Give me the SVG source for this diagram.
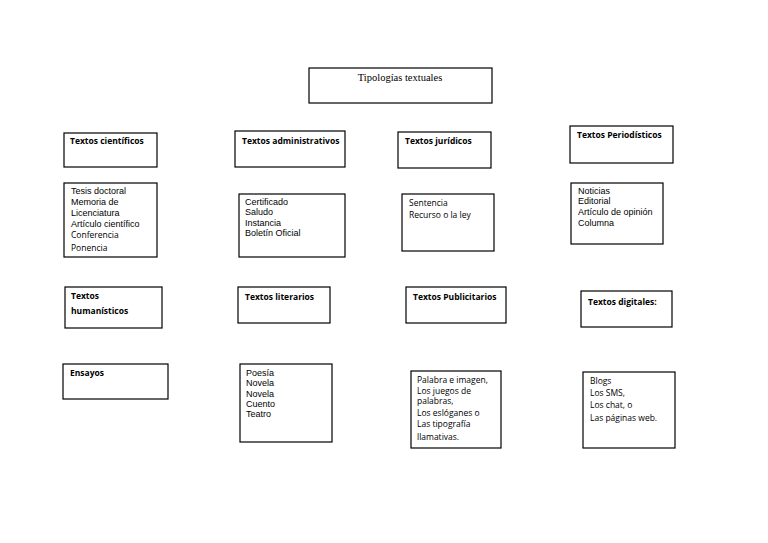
<svg xmlns="http://www.w3.org/2000/svg" width="768" height="543" viewBox="0 0 768 543">
<style>
rect{fill:#fff;stroke:#000;stroke-width:1.2}
text{font-family:"Liberation Sans",Arial,sans-serif;font-size:9px;fill:#000}
.b{font-family:"Open Sans","Liberation Sans",sans-serif;font-weight:bold;font-size:8.5px}
.c{font-family:"Open Sans","Liberation Sans",sans-serif;font-size:8.5px}
.t{font-family:"Liberation Serif",serif;font-size:10.5px}
</style>
<rect width="768" height="543" style="fill:#fff;stroke:none"/>
<g id="title"><rect x="309" y="68" width="183" height="35"/><text class="t" x="400" y="81" text-anchor="middle">Tipologías textuales</text></g>
<g id="cientificos"><rect x="64" y="133" width="93" height="34"/><text class="b" x="70" y="144">Textos científicos</text></g>
<g id="administrativos"><rect x="235" y="131" width="110" height="36"/><text class="b" x="242" y="144">Textos administrativos</text></g>
<g id="juridicos"><rect x="398" y="132" width="93" height="36"/><text class="b" x="405" y="144">Textos jurídicos</text></g>
<g id="periodisticos"><rect x="570" y="126" width="103" height="37"/><text class="b" x="577" y="138">Textos Periodísticos</text></g>
<g id="cientificos-list"><rect x="64" y="183" width="93" height="74"/>
<text x="71" y="194">Tesis doctoral</text><text x="71" y="205">Memoria de</text><text x="71" y="216">Licenciatura</text><text x="71" y="227">Artículo científico</text><text class="c" x="71" y="238">Conferencia</text><text class="c" x="71" y="251">Ponencia</text></g>
<g id="administrativos-list"><rect x="239" y="194" width="106" height="63"/>
<text x="245" y="205">Certificado</text><text x="245" y="215">Saludo</text><text x="245" y="226">Instancia</text><text x="245" y="236">Boletín Oficial</text></g>
<g id="juridicos-list"><rect x="402" y="194" width="92" height="57"/>
<text class="c" x="409" y="206">Sentencia</text><text class="c" x="409" y="218">Recurso o la ley</text></g>
<g id="periodisticos-list"><rect x="571" y="183" width="92" height="61"/>
<text x="578" y="194">Noticias</text><text x="578" y="204">Editorial</text><text x="578" y="215">Artículo de opinión</text><text x="578" y="226">Columna</text></g>
<g id="humanisticos"><rect x="65" y="287" width="97" height="41"/><text class="b" x="71" y="299">Textos</text><text class="b" x="71" y="314">humanísticos</text></g>
<g id="literarios"><rect x="238" y="287" width="92" height="36"/><text class="b" x="245" y="300">Textos literarios</text></g>
<g id="publicitarios"><rect x="406" y="287" width="100" height="36"/><text class="b" x="413" y="300">Textos Publicitarios</text></g>
<g id="digitales"><rect x="581" y="291" width="91" height="36"/><text class="b" x="588" y="305">Textos digitales:</text></g>
<g id="ensayos"><rect x="63" y="364" width="105" height="35"/><text class="b" x="70" y="376">Ensayos</text></g>
<g id="literarios-list"><rect x="240" y="364" width="92" height="78"/>
<text x="246" y="376">Poesía</text><text x="246" y="386">Novela</text><text x="246" y="397">Novela</text><text x="246" y="407">Cuento</text><text x="246" y="417">Teatro</text></g>
<g id="publicitarios-list"><rect x="411" y="371" width="90" height="77"/>
<text class="c" x="417" y="383">Palabra e imagen,</text><text class="c" x="417" y="394">Los juegos de</text><text class="c" x="417" y="404">palabras,</text><text class="c" x="417" y="416">Los eslóganes o</text><text class="c" x="417" y="427">Las tipografía</text><text class="c" x="417" y="440">llamativas.</text></g>
<g id="digitales-list"><rect x="583" y="372" width="92" height="76"/>
<text class="c" x="590" y="384">Blogs</text><text class="c" x="590" y="396">Los SMS,</text><text class="c" x="590" y="408">Los chat, o</text><text class="c" x="590" y="421">Las páginas web.</text></g>
<g id="connectors"/>
</svg>
